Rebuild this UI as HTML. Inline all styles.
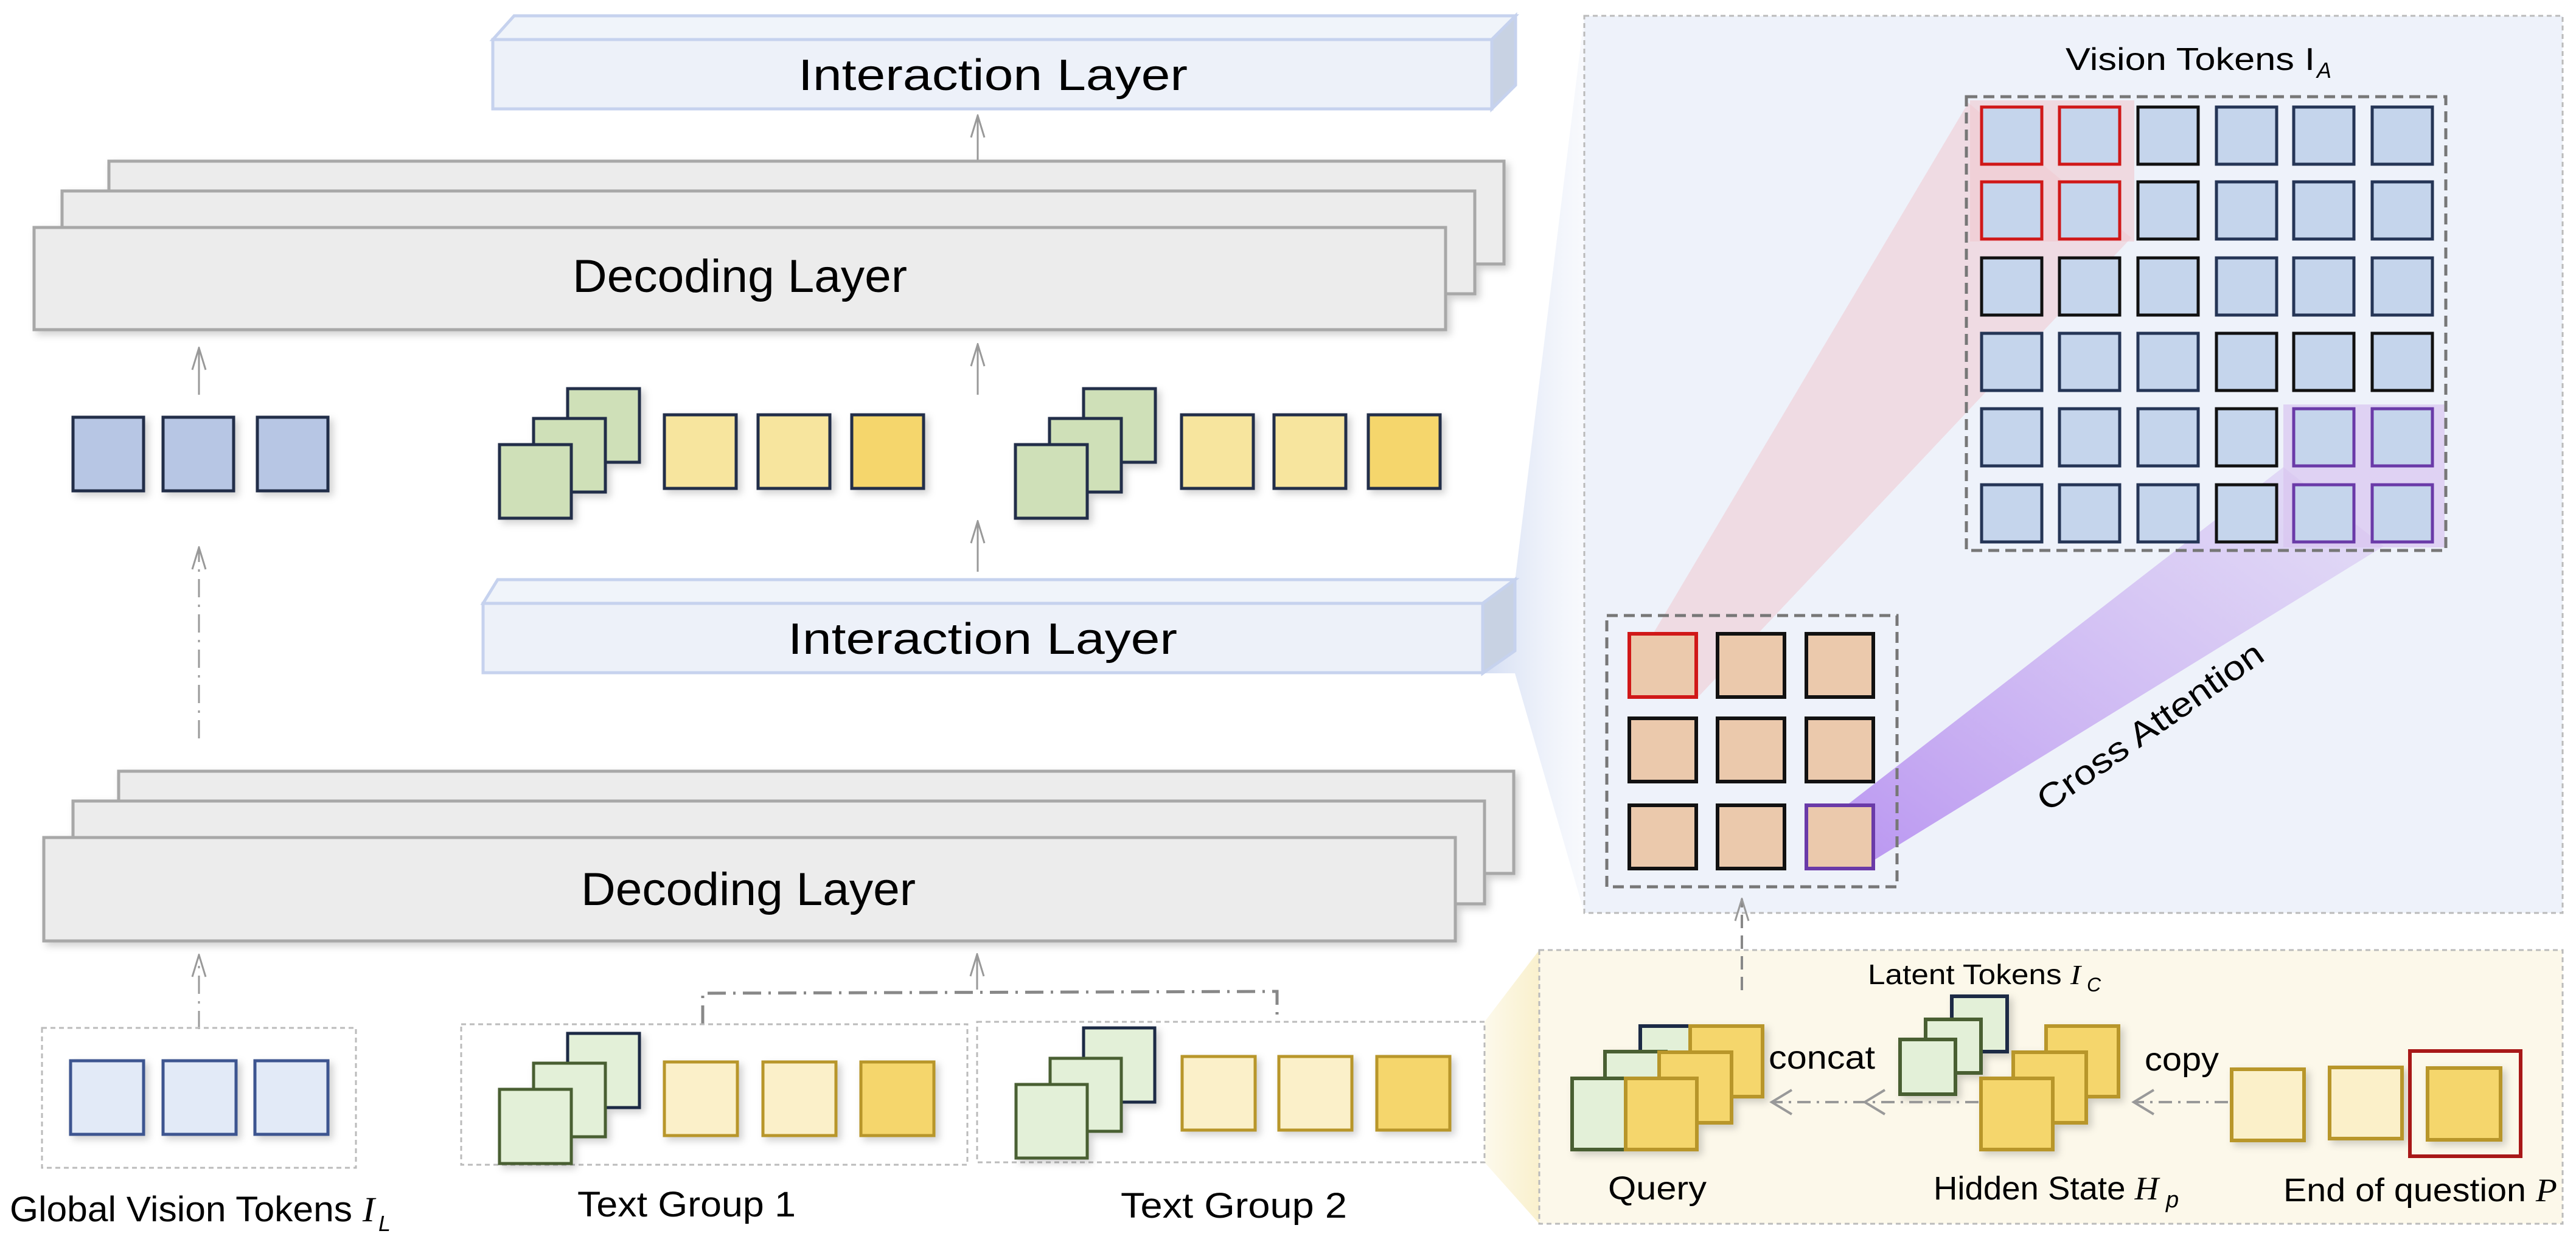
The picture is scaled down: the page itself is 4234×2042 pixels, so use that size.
<!DOCTYPE html>
<html><head><meta charset="utf-8"><style>html,body{margin:0;padding:0;background:#fff}svg{display:block}text{font-family:"Liberation Sans",sans-serif;fill:#000}</style></head>
<body>
<svg width="4234" height="2042" viewBox="0 0 4234 2042" xmlns="http://www.w3.org/2000/svg">
<defs>
<filter id="sh" x="-20%" y="-20%" width="150%" height="150%"><feDropShadow dx="6" dy="6" stdDeviation="6" flood-color="#000" flood-opacity="0.18"/></filter>
<linearGradient id="pg" x1="0" y1="1" x2="1" y2="0"><stop offset="0" stop-color="#b48cf0" stop-opacity="0.9"/><stop offset="1" stop-color="#d9c9f2" stop-opacity="0.5"/></linearGradient>
<linearGradient id="bg" x1="0" y1="0" x2="1" y2="0"><stop offset="0" stop-color="#c9d5f0" stop-opacity="0.8"/><stop offset="1" stop-color="#e8edf8" stop-opacity="0.3"/></linearGradient>
<linearGradient id="yg" x1="0" y1="0" x2="1" y2="0"><stop offset="0" stop-color="#f7ecc0" stop-opacity="0.3"/><stop offset="1" stop-color="#f9efc8" stop-opacity="0.9"/></linearGradient>
<marker id="ah" viewBox="0 0 40 26" refX="38" refY="13" markerWidth="40" markerHeight="26" orient="auto" markerUnits="userSpaceOnUse"><path d="M2,2 L38,13 L2,24" fill="none" stroke="#999" stroke-width="3"/></marker>
</defs>

<!-- beams to right panel -->
<polygon points="2437,955 2490,955 2604,26 2604,1501 2490,1107 2437,1107" fill="url(#bg)"/>
<polygon points="2440,1680 2530,1562 2530,2012 2440,1911" fill="url(#yg)"/>

<!-- Top interaction layer -->
<polygon points="810,65 845,26 2491,26 2452,65" fill="#f0f4fa" stroke="#c6d2ee" stroke-width="5"/>
<polygon points="2452,65 2491,26 2491,140 2452,179" fill="#c8d2e3" stroke="#c6d2ee" stroke-width="5"/>
<rect x="810" y="65" width="1642" height="114" fill="#edf1f9" stroke="#c6d2ee" stroke-width="5"/>
<text x="1632" y="148" font-size="72" text-anchor="middle" textLength="640" lengthAdjust="spacingAndGlyphs">Interaction Layer</text>
<line x1="1607" y1="270" x2="1607" y2="190" stroke="#999" stroke-width="3" marker-end="url(#ah)"/>

<!-- Decoding stack 1 -->
<g filter="url(#sh)">
<rect x="179" y="265" width="2293" height="169" fill="#ececec" stroke="#a8a8a8" stroke-width="5"/>
<rect x="102" y="314" width="2322" height="169" fill="#ececec" stroke="#a8a8a8" stroke-width="5"/>
<rect x="56" y="374" width="2320" height="168" fill="#ececec" stroke="#a8a8a8" stroke-width="5"/>
</g>
<text x="1216" y="480" font-size="76" text-anchor="middle" textLength="550" lengthAdjust="spacingAndGlyphs">Decoding Layer</text>

<line x1="327" y1="649" x2="327" y2="572" stroke="#999" stroke-width="3" marker-end="url(#ah)"/>
<line x1="1607" y1="649" x2="1607" y2="566" stroke="#999" stroke-width="3" marker-end="url(#ah)"/>

<!-- mid tokens -->
<g stroke="#222d4a" stroke-width="5" filter="url(#sh)">
<rect x="120" y="686" width="116" height="121" fill="#b7c6e4"/>
<rect x="268" y="686" width="116" height="121" fill="#b7c6e4"/>
<rect x="423" y="686" width="116" height="121" fill="#b7c6e4"/>
<rect x="933" y="639" width="118" height="121" fill="#cfe0b8"/>
<rect x="877" y="688" width="118" height="121" fill="#cfe0b8"/>
<rect x="821" y="731" width="118" height="121" fill="#cfe0b8"/>
<rect x="1092" y="682" width="118" height="121" fill="#f7e59e"/>
<rect x="1246" y="682" width="118" height="121" fill="#f7e59e"/>
<rect x="1400" y="682" width="118" height="121" fill="#f5d66c"/>
<rect x="1781" y="639" width="118" height="121" fill="#cfe0b8"/>
<rect x="1725" y="688" width="118" height="121" fill="#cfe0b8"/>
<rect x="1669" y="731" width="118" height="121" fill="#cfe0b8"/>
<rect x="1942" y="682" width="118" height="121" fill="#f7e59e"/>
<rect x="2094" y="682" width="118" height="121" fill="#f7e59e"/>
<rect x="2249" y="682" width="118" height="121" fill="#f5d66c"/>
</g>

<line x1="1607" y1="940" x2="1607" y2="857" stroke="#999" stroke-width="3" marker-end="url(#ah)"/>
<line x1="327" y1="1214" x2="327" y2="900" stroke="#999" stroke-width="3" stroke-dasharray="30,12,4,12" marker-end="url(#ah)"/>

<!-- Interaction layer 2 -->
<polygon points="794,992 818,953 2490,953 2437,992" fill="#f0f4fa" stroke="#c6d2ee" stroke-width="5"/>
<polygon points="2437,992 2490,953 2490,1070 2437,1107" fill="#c8d2e3" stroke="#c6d2ee" stroke-width="5"/>
<rect x="794" y="992" width="1643" height="114" fill="#edf1f9" stroke="#c6d2ee" stroke-width="5"/>
<text x="1615" y="1075" font-size="72" text-anchor="middle" textLength="640" lengthAdjust="spacingAndGlyphs">Interaction Layer</text>

<!-- Decoding stack 2 -->
<g filter="url(#sh)">
<rect x="195" y="1268" width="2293" height="168" fill="#ececec" stroke="#a8a8a8" stroke-width="5"/>
<rect x="120" y="1317" width="2320" height="169" fill="#ececec" stroke="#a8a8a8" stroke-width="5"/>
<rect x="72" y="1377" width="2320" height="170" fill="#ececec" stroke="#a8a8a8" stroke-width="5"/>
</g>
<text x="1230" y="1488" font-size="76" text-anchor="middle" textLength="550" lengthAdjust="spacingAndGlyphs">Decoding Layer</text>

<line x1="327" y1="1692" x2="327" y2="1570" stroke="#999" stroke-width="3" stroke-dasharray="30,12,4,12" marker-end="url(#ah)"/>
<line x1="1606" y1="1627" x2="1606" y2="1569" stroke="#999" stroke-width="3" marker-end="url(#ah)"/>
<path d="M1155,1683 L1155,1633 L2099,1630 L2099,1680" fill="none" stroke="#888" stroke-width="5" stroke-dasharray="30,12,4,12"/>

<!-- bottom groups -->
<g fill="none" stroke="#bbb" stroke-width="3" stroke-dasharray="8,6">
<rect x="69" y="1690" width="516" height="230"/>
<rect x="758" y="1684" width="832" height="231"/>
<rect x="1606" y="1680" width="834" height="231"/>
</g>
<g stroke-width="5" filter="url(#sh)">
<rect x="116" y="1744" width="120" height="121" fill="#e2eaf7" stroke="#3d5590"/>
<rect x="268" y="1744" width="120" height="121" fill="#e2eaf7" stroke="#3d5590"/>
<rect x="419" y="1744" width="120" height="121" fill="#e2eaf7" stroke="#3d5590"/>
<rect x="933" y="1699" width="118" height="122" fill="#e3f0d8" stroke="#1f2a44"/>
<rect x="877" y="1748" width="118" height="121" fill="#e3f0d8" stroke="#4a5e30"/>
<rect x="821" y="1791" width="118" height="122" fill="#e3f0d8" stroke="#4a5e30"/>
<rect x="1092" y="1746" width="120" height="121" fill="#fbf0c9" stroke="#b8962a"/>
<rect x="1254" y="1746" width="120" height="121" fill="#fbf0c9" stroke="#b8962a"/>
<rect x="1415" y="1746" width="120" height="121" fill="#f5d66c" stroke="#b8962a"/>
<rect x="1781" y="1690" width="117" height="122" fill="#e3f0d8" stroke="#1f2a44"/>
<rect x="1726" y="1740" width="117" height="120" fill="#e3f0d8" stroke="#4a5e30"/>
<rect x="1670" y="1783" width="117" height="121" fill="#e3f0d8" stroke="#4a5e30"/>
<rect x="1943" y="1737" width="120" height="121" fill="#fbf0c9" stroke="#b8962a"/>
<rect x="2102" y="1737" width="120" height="121" fill="#fbf0c9" stroke="#b8962a"/>
<rect x="2263" y="1737" width="120" height="121" fill="#f5d66c" stroke="#b8962a"/>
</g>
<text x="16" y="2008" font-size="58" textLength="600" lengthAdjust="spacingAndGlyphs">Global Vision Tokens <tspan font-family="Liberation Serif" font-style="italic">I</tspan></text>
<text x="622" y="2024" font-size="36" font-family="Liberation Serif" font-style="italic">L</text>
<text x="949" y="2000" font-size="58" textLength="359" lengthAdjust="spacingAndGlyphs">Text Group 1</text>
<text x="1842" y="2002" font-size="58" textLength="372" lengthAdjust="spacingAndGlyphs">Text Group 2</text>

<!-- right panel -->
<rect x="2604" y="26" width="1608" height="1475" fill="#eef2fa" stroke="#bbb" stroke-width="3" stroke-dasharray="8,6"/>
<polygon points="3235,169 3503,391 2791,1146 2717,1042" fill="#f1c9cf" opacity="0.55"/>
<rect x="3238" y="165" width="270" height="232" fill="#f0c8cf" opacity="0.6"/>
<polygon points="3030,1328 3753,768 3918,898 3082,1413" fill="url(#pg)"/>
<rect x="3753" y="665" width="265" height="235" fill="#d8c4ef" opacity="0.7"/>
<rect x="3232" y="159" width="788" height="746" fill="none" stroke="#777" stroke-width="5" stroke-dasharray="18,10"/>
<text x="3395" y="115" font-size="52" textLength="410" lengthAdjust="spacingAndGlyphs">Vision Tokens I</text>
<text x="3808" y="128" font-size="36" font-family="Liberation Serif" font-style="italic">A</text>
<g stroke-width="5" fill="#c5d5ec">
<rect x="3257" y="176" width="99" height="94" stroke="#d01818"/><rect x="3385" y="176" width="99" height="94" stroke="#d01818"/><rect x="3514" y="176" width="99" height="94" stroke="#111"/><rect x="3643" y="176" width="99" height="94" stroke="#253556"/><rect x="3770" y="176" width="99" height="94" stroke="#253556"/><rect x="3899" y="176" width="99" height="94" stroke="#253556"/>
<rect x="3257" y="299" width="99" height="94" stroke="#d01818"/><rect x="3385" y="299" width="99" height="94" stroke="#d01818"/><rect x="3514" y="299" width="99" height="94" stroke="#111"/><rect x="3643" y="299" width="99" height="94" stroke="#253556"/><rect x="3770" y="299" width="99" height="94" stroke="#253556"/><rect x="3899" y="299" width="99" height="94" stroke="#253556"/>
<rect x="3257" y="424" width="99" height="94" stroke="#111"/><rect x="3385" y="424" width="99" height="94" stroke="#111"/><rect x="3514" y="424" width="99" height="94" stroke="#111"/><rect x="3643" y="424" width="99" height="94" stroke="#253556"/><rect x="3770" y="424" width="99" height="94" stroke="#253556"/><rect x="3899" y="424" width="99" height="94" stroke="#253556"/>
<rect x="3257" y="548" width="99" height="94" stroke="#253556"/><rect x="3385" y="548" width="99" height="94" stroke="#253556"/><rect x="3514" y="548" width="99" height="94" stroke="#253556"/><rect x="3643" y="548" width="99" height="94" stroke="#111"/><rect x="3770" y="548" width="99" height="94" stroke="#111"/><rect x="3899" y="548" width="99" height="94" stroke="#111"/>
<rect x="3257" y="672" width="99" height="94" stroke="#253556"/><rect x="3385" y="672" width="99" height="94" stroke="#253556"/><rect x="3514" y="672" width="99" height="94" stroke="#253556"/><rect x="3643" y="672" width="99" height="94" stroke="#111"/><rect x="3770" y="672" width="99" height="94" stroke="#6a3aa8"/><rect x="3899" y="672" width="99" height="94" stroke="#6a3aa8"/>
<rect x="3257" y="797" width="99" height="94" stroke="#253556"/><rect x="3385" y="797" width="99" height="94" stroke="#253556"/><rect x="3514" y="797" width="99" height="94" stroke="#253556"/><rect x="3643" y="797" width="99" height="94" stroke="#111"/><rect x="3770" y="797" width="99" height="94" stroke="#6a3aa8"/><rect x="3899" y="797" width="99" height="94" stroke="#6a3aa8"/>
</g>

<rect x="2641" y="1012" width="477" height="446" fill="none" stroke="#777" stroke-width="5" stroke-dasharray="18,10"/>
<g stroke-width="6" fill="#ebc9ac">
<rect x="2678" y="1042" width="110" height="104" stroke="#d01818"/><rect x="2823" y="1042" width="110" height="104" stroke="#111"/><rect x="2969" y="1042" width="110" height="104" stroke="#111"/>
<rect x="2678" y="1181" width="110" height="104" stroke="#111"/><rect x="2823" y="1181" width="110" height="104" stroke="#111"/><rect x="2969" y="1181" width="110" height="104" stroke="#111"/>
<rect x="2678" y="1324" width="110" height="104" stroke="#111"/><rect x="2823" y="1324" width="110" height="104" stroke="#111"/><rect x="2969" y="1324" width="110" height="104" stroke="#6a3aa8"/>
</g>
<text x="0" y="0" font-size="56" text-anchor="middle" transform="translate(3545,1210) rotate(-35)" textLength="440" lengthAdjust="spacingAndGlyphs">Cross Attention</text>

<!-- bottom right panel -->
<rect x="2530" y="1562" width="1682" height="450" fill="#fcf8ea" stroke="#bbb" stroke-width="3" stroke-dasharray="8,6"/>
<line x1="2863" y1="1628" x2="2863" y2="1478" stroke="#888" stroke-width="4" stroke-dasharray="22,12" marker-end="url(#ah)"/>
<g stroke-width="6" filter="url(#sh)">
<rect x="2696" y="1687" width="100" height="100" fill="#e3f0d8" stroke="#1f2a44"/>
<rect x="2638" y="1729" width="100" height="100" fill="#e3f0d8" stroke="#4a5e30"/>
<rect x="2584" y="1773" width="100" height="117" fill="#e3f0d8" stroke="#4a5e30"/>
<rect x="2778" y="1687" width="119" height="116" fill="#f5d66c" stroke="#b8962a"/>
<rect x="2727" y="1730" width="119" height="116" fill="#f5d66c" stroke="#b8962a"/>
<rect x="2672" y="1773" width="117" height="117" fill="#f5d66c" stroke="#b8962a"/>
<rect x="3208" y="1638" width="91" height="91" fill="#e3f0d8" stroke="#1f2a44"/>
<rect x="3165" y="1676" width="91" height="88" fill="#e3f0d8" stroke="#4a5e30"/>
<rect x="3123" y="1709" width="91" height="90" fill="#e3f0d8" stroke="#4a5e30"/>
<rect x="3363" y="1687" width="119" height="116" fill="#f5d66c" stroke="#b8962a"/>
<rect x="3309" y="1730" width="120" height="116" fill="#f5d66c" stroke="#b8962a"/>
<rect x="3256" y="1773" width="118" height="117" fill="#f5d66c" stroke="#b8962a"/>
<rect x="3668" y="1758" width="119" height="117" fill="#fbf0c9" stroke="#b8962a"/>
<rect x="3829" y="1755" width="119" height="117" fill="#fbf0c9" stroke="#b8962a"/>
<rect x="3990" y="1756" width="120" height="118" fill="#f5d66c" stroke="#b8962a"/>
</g>
<rect x="3961" y="1728" width="182" height="173" fill="none" stroke="#a81818" stroke-width="6"/>
<line x1="3252" y1="1812" x2="2915" y2="1812" stroke="#999" stroke-width="4" stroke-dasharray="22,10,4,10"/>
<path d="M2945,1792 L2912,1812 L2945,1832 M3098,1792 L3065,1812 L3098,1832" fill="none" stroke="#999" stroke-width="4"/>
<line x1="3662" y1="1812" x2="3510" y2="1812" stroke="#999" stroke-width="4" stroke-dasharray="22,10,4,10"/>
<path d="M3540,1792 L3507,1812 L3540,1832" fill="none" stroke="#999" stroke-width="4"/>
<text x="2643" y="1972" font-size="54" textLength="162" lengthAdjust="spacingAndGlyphs">Query</text>
<text x="2907" y="1757" font-size="54" textLength="175" lengthAdjust="spacingAndGlyphs">concat</text>
<text x="3070" y="1618" font-size="46" textLength="350" lengthAdjust="spacingAndGlyphs">Latent Tokens <tspan font-family="Liberation Serif" font-style="italic">I</tspan></text>
<text x="3430" y="1630" font-size="32" font-family="Liberation Serif" font-style="italic">C</text>
<text x="3178" y="1972" font-size="54" textLength="370" lengthAdjust="spacingAndGlyphs">Hidden State <tspan font-family="Liberation Serif" font-style="italic">H</tspan></text>
<text x="3560" y="1985" font-size="38" font-family="Liberation Serif" font-style="italic">p</text>
<text x="3525" y="1760" font-size="54" textLength="122" lengthAdjust="spacingAndGlyphs">copy</text>
<text x="3753" y="1975" font-size="54" textLength="450" lengthAdjust="spacingAndGlyphs">End of question <tspan font-family="Liberation Serif" font-style="italic">P</tspan></text>
</svg>
</body></html>
